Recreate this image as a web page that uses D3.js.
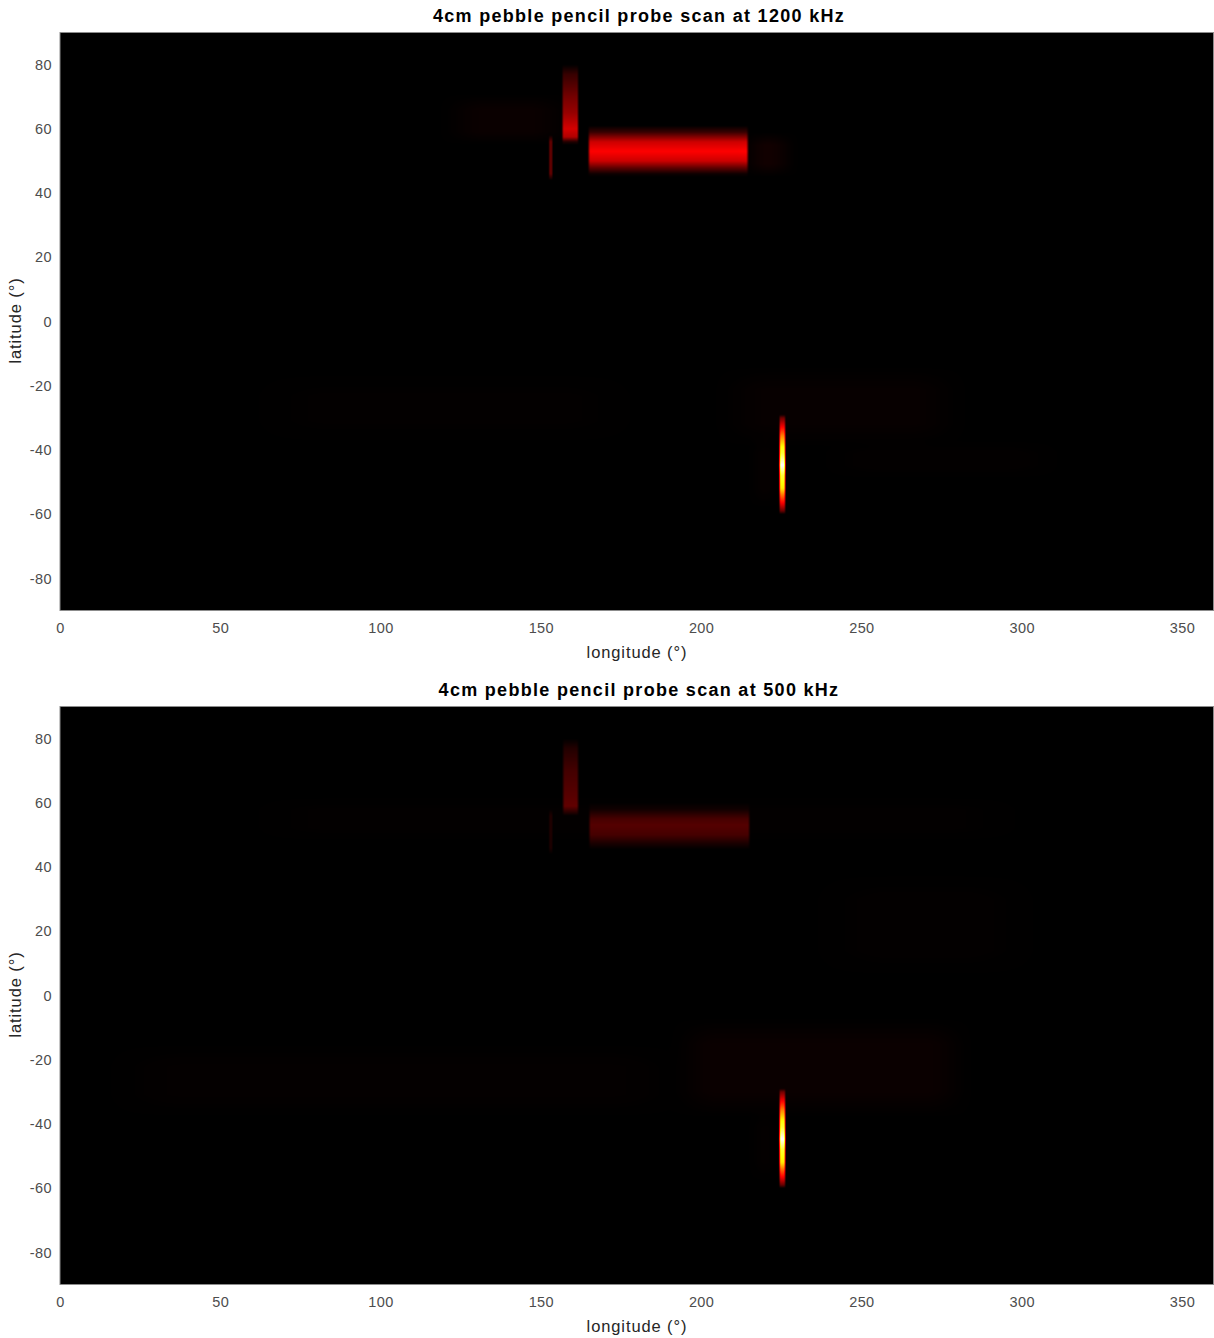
<!DOCTYPE html>
<html>
<head>
<meta charset="utf-8">
<script src="https://cdn.jsdelivr.net/npm/d3@7"></script>
<style>
  html, body { margin: 0; padding: 0; background: #fff; }
  svg { display: block; }
</style>
</head>
<body>
<svg id="chart" width="1214" height="1338"></svg>
<script>
// ---------------- DATA ----------------
const titles = ["4cm pebble pencil probe scan at 1200 kHz", "4cm pebble pencil probe scan at 500 kHz"];
const xTicks = [0, 50, 100, 150, 200, 250, 300, 350];
const yTicks = [80, 60, 40, 20, 0, -20, -40, -60, -80];
const xLabel = "longitude (\u00B0)";
const yLabel = "latitude (\u00B0)";

// Spike profile shared by both scans (lat points -> normalised intensity)
const spikeLat = [-29, -30, -33, -35.5, -39, -41, -44.7, -48, -52, -54, -56.5, -59, -60];
const spikeVal = [0, 0.15, 0.37, 0.55, 0.75, 0.8, 1.0, 0.8, 0.72, 0.55, 0.37, 0.15, 0];

// 1200 kHz features: longitude extent, lon edge softness, latitude profile
const hiLon0 = [156.8, 165.0, 152.6, 125, 216, 224.5, 217, 212, 70, 245];
const hiLon1 = [161.6, 214.5, 153.6, 154, 226, 226.2, 223, 275, 170, 305];
const hiEdge = [0.5, 0.6, 0.4, 8, 5, 0.45, 3, 10, 14, 10];
const hiLat = [
  [80, 77, 70, 65, 60, 57.5, 56, 55],
  [61, 59, 56, 53, 50, 48, 46, 45],
  [58, 56, 46, 44],
  [71, 66, 59, 55],
  [59, 55, 49, 45],
  spikeLat,
  [-35, -41, -52, -58],
  [-14, -21, -32, -39],
  [-16, -23, -31, -38],
  [-37, -41, -45, -49]
];
const hiVal = [
  [0, 0.08, 0.17, 0.22, 0.31, 0.26, 0.05, 0],
  [0, 0.08, 0.30, 0.375, 0.30, 0.15, 0.02, 0],
  [0, 0.14, 0.14, 0],
  [0, 0.015, 0.015, 0],
  [0, 0.025, 0.025, 0],
  spikeVal,
  [0, 0.008, 0.008, 0],
  [0, 0.01, 0.01, 0],
  [0, 0.004, 0.004, 0],
  [0, 0.005, 0.005, 0]
];

// 500 kHz features
const loLon0 = [157.0, 165.2, 152.6, 224.5, 197, 25, 245, 70, 217];
const loLon1 = [161.6, 215.0, 153.6, 226.2, 278, 185, 295, 290, 223];
const loEdge = [0.6, 0.6, 0.4, 0.45, 8, 14, 14, 14, 3];
const loLat = [
  [80, 77, 70, 62, 59, 57, 56],
  [60, 58, 55, 53, 50, 47, 45.5],
  [58, 56, 46, 44],
  spikeLat,
  [-7, -15, -30, -38],
  [-15, -22, -31, -38],
  [6, 14, 30, 38],
  [48, 52, 58, 62],
  [-35, -41, -52, -58]
];
const loVal = [
  [0, 0.05, 0.10, 0.13, 0.14, 0.05, 0],
  [0, 0.02, 0.10, 0.12, 0.10, 0.03, 0],
  [0, 0.04, 0.04, 0],
  spikeVal,
  [0, 0.015, 0.015, 0],
  [0, 0.006, 0.006, 0],
  [0, 0.005, 0.005, 0],
  [0, 0.004, 0.004, 0],
  [0, 0.006, 0.006, 0]
];

const panels = [
  { lon0: hiLon0, lon1: hiLon1, edge: hiEdge, lat: hiLat, val: hiVal },
  { lon0: loLon0, lon1: loLon1, edge: loEdge, lat: loLat, val: loVal }
];

// ---------------- LAYOUT ----------------
const svg = d3.select("#chart");
const plotLeft = 60, plotRight = 1214;
const panelTops = [32.5, 706.5];
const plotH = 578;
const W = plotRight - plotLeft;
const FONT = "Liberation Sans, Arial, Helvetica, sans-serif";

// hot colormap
const hot = d3.scaleLinear()
  .domain([0, 0.375, 0.75, 1])
  .range(["#000000", "#ff0000", "#ffff00", "#ffffff"])
  .clamp(true);
const lut = d3.range(1024).map(i => d3.rgb(hot(i / 1023)));

function smooth(t) { t = Math.max(0, Math.min(1, t)); return t * t * (3 - 2 * t); }

panels.forEach((p, pi) => {
  const top = panelTops[pi];
  const x = d3.scaleLinear().domain([0, 360]).range([plotLeft, plotRight]);
  const y = d3.scaleLinear().domain([-90, 90]).range([top + plotH, top]);

  const profiles = p.lat.map((lats, i) =>
    d3.scaleLinear().domain(lats.slice().reverse()).range(p.val[i].slice().reverse()).clamp(true));

  const canvas = document.createElement("canvas");
  canvas.width = W; canvas.height = plotH;
  const ctx = canvas.getContext("2d");
  const img = ctx.createImageData(W, plotH);
  const n = p.lon0.length;
  const lonW = [];
  for (let i = 0; i < n; i++) {
    const arr = new Float32Array(W);
    for (let px = 0; px < W; px++) {
      const lon = x.invert(plotLeft + px + 0.5);
      const e = p.edge[i];
      const a = smooth((lon - (p.lon0[i] - e)) / (2 * e));
      const b = smooth(((p.lon1[i] + e) - lon) / (2 * e));
      arr[px] = a * b;
    }
    lonW.push(arr);
  }
  for (let py = 0; py < plotH; py++) {
    const lat = y.invert(top + py + 0.5);
    const latV = profiles.map(f => f(lat));
    for (let px = 0; px < W; px++) {
      let v = 0;
      for (let i = 0; i < n; i++) {
        if (latV[i] > 0) v += latV[i] * lonW[i][px];
      }
      const c = lut[Math.round(Math.min(1, v) * 1023)];
      const k = (py * W + px) * 4;
      img.data[k] = c.r; img.data[k + 1] = c.g; img.data[k + 2] = c.b; img.data[k + 3] = 255;
    }
  }
  ctx.putImageData(img, 0, 0);

  const g = svg.append("g");
  g.append("image")
    .attr("x", plotLeft).attr("y", top)
    .attr("width", W).attr("height", plotH)
    .attr("preserveAspectRatio", "none")
    .attr("href", canvas.toDataURL());

  g.append("rect")
    .attr("x", plotLeft).attr("y", top)
    .attr("width", W - 0.5).attr("height", plotH)
    .attr("fill", "none").attr("stroke", "#8c8c8c").attr("stroke-width", 1);

  const fmt = d => String(d);
  const xAxis = d3.axisBottom(x).tickValues(xTicks).tickFormat(fmt).tickSize(0).tickPadding(12);
  const gx = g.append("g").attr("transform", `translate(0,${top + plotH})`).call(xAxis);
  const yAxis = d3.axisLeft(y).tickValues(yTicks).tickFormat(fmt).tickSize(0).tickPadding(8);
  const gy = g.append("g").attr("transform", `translate(${plotLeft},0)`).call(yAxis);
  [gx, gy].forEach(a => {
    a.select(".domain").remove();
    a.selectAll("text")
      .attr("font-family", FONT)
      .attr("font-size", 14.5).attr("letter-spacing", 0.4).attr("fill", "#4d4d4d");
  });

  g.append("text")
    .attr("x", 637).attr("y", top + plotH + 47)
    .attr("text-anchor", "middle")
    .attr("font-family", FONT)
    .attr("font-size", 16.5).attr("letter-spacing", 0.9).attr("fill", "#262626")
    .text(xLabel);

  g.append("text")
    .attr("transform", `translate(21,${top + plotH / 2 - 1}) rotate(-90)`)
    .attr("text-anchor", "middle")
    .attr("font-family", FONT)
    .attr("font-size", 16.5).attr("letter-spacing", 0.9).attr("fill", "#262626")
    .text(yLabel);

  g.append("text")
    .attr("x", 639).attr("y", top - 11)
    .attr("text-anchor", "middle")
    .attr("font-family", FONT)
    .attr("font-weight", "bold")
    .attr("font-size", 18).attr("letter-spacing", 1.3).attr("fill", "#000")
    .text(titles[pi]);
});
</script>
</body>
</html>
